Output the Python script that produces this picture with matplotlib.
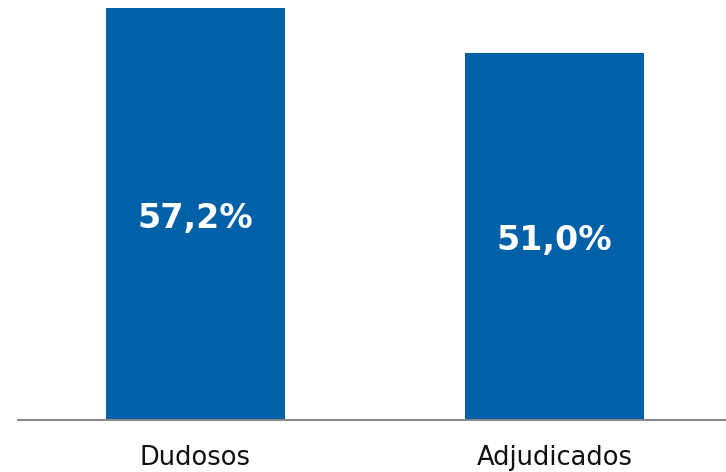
import matplotlib
matplotlib.use("Agg")
import matplotlib.pyplot as plt

categories = ["Dudosos", "Adjudicados"]
values = [57.2, 51.0]
labels = ["57,2%", "51,0%"]

fig = plt.figure(figsize=(7.26, 4.72), dpi=100)
ax = fig.add_axes([18/726, 52/472, 708/726, 420/472])
x = list(range(len(categories)))
ax.bar(x, values, width=0.5, color="#0060A8")
for xi, v, lab in zip(x, values, labels):
    ax.text(xi, v/2 - 0.6, lab, ha="center", va="center", color="white",
            fontsize=24, fontweight="bold", family="DejaVu Sans")
ax.set_xlim(-0.494, 1.478)
ax.set_ylim(0, 58.33)
ax.set_xticks(x)
ax.set_xticklabels(categories, fontsize=18.5, color="#111111")
ax.tick_params(axis="x", length=0, pad=18)
ax.set_yticks([])
for s in ["top", "right", "left"]:
    ax.spines[s].set_visible(False)
ax.spines["bottom"].set_color("#888888")
ax.spines["bottom"].set_linewidth(1.5)
fig.savefig("out.png", dpi=100)
